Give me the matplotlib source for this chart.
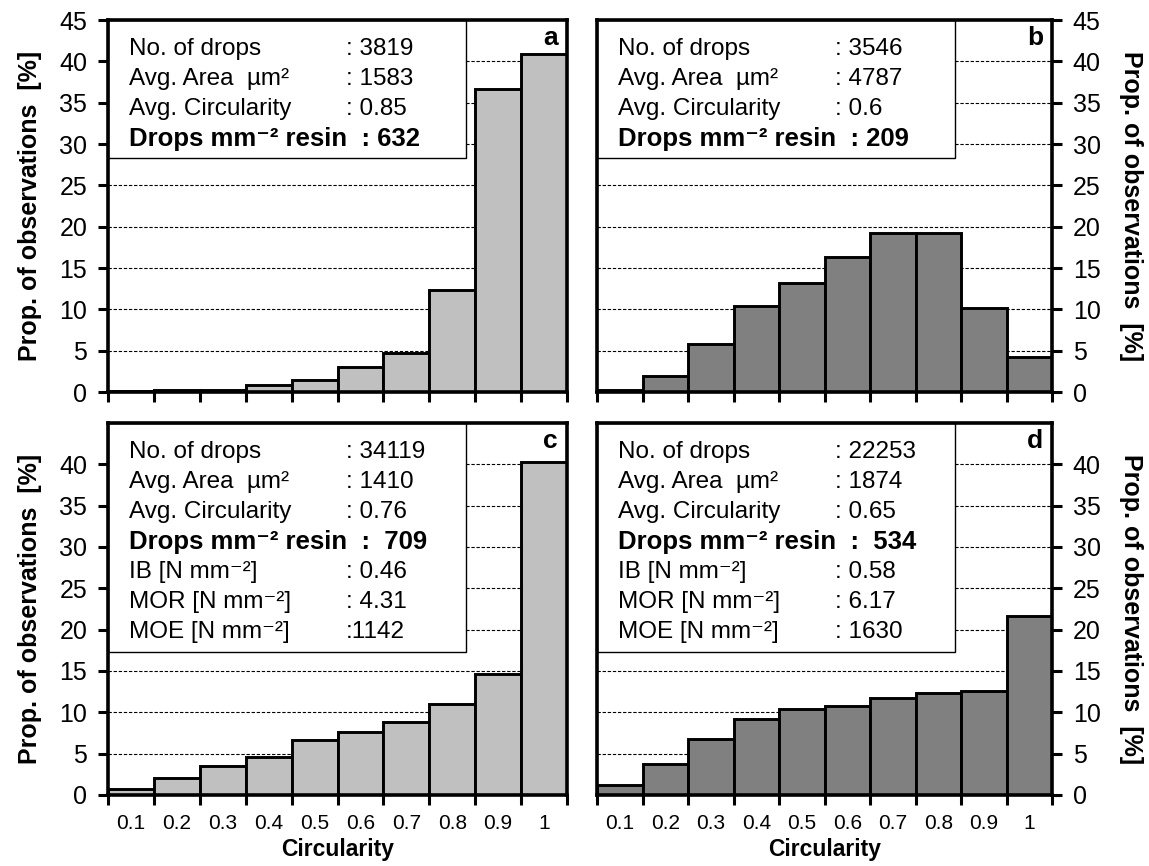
import matplotlib.pyplot as plt
from matplotlib.patches import Rectangle

plt.rcParams['font.family'] = ['Liberation Sans', 'DejaVu Sans']

circ_labels = ['0.1', '0.2', '0.3', '0.4', '0.5', '0.6', '0.7', '0.8', '0.9', '1']

prop_a = [0.1, 0.3, 0.3, 0.8, 1.5, 3.0, 4.7, 12.3, 36.6, 40.9]
prop_b = [0.2, 1.9, 5.8, 10.4, 13.2, 16.3, 19.2, 19.2, 10.2, 4.2]
prop_c = [0.7, 2.1, 3.5, 4.6, 6.7, 7.6, 8.8, 11.0, 14.6, 40.3]
prop_d = [1.2, 3.8, 6.8, 9.2, 10.4, 10.8, 11.7, 12.3, 12.6, 21.7]

info_a = [("No. of drops", ": 3819"), ("Avg. Area  µm²", ": 1583"), ("Avg. Circularity", ": 0.85")]
info_b = [("No. of drops", ": 3546"), ("Avg. Area  µm²", ": 4787"), ("Avg. Circularity", ": 0.6")]
info_c = [("No. of drops", ": 34119"), ("Avg. Area  µm²", ": 1410"), ("Avg. Circularity", ": 0.76")]
info_d = [("No. of drops", ": 22253"), ("Avg. Area  µm²", ": 1874"), ("Avg. Circularity", ": 0.65")]

bold_a = "Drops mm⁻² resin  : 632"
bold_b = "Drops mm⁻² resin  : 209"
bold_c = "Drops mm⁻² resin  :  709"
bold_d = "Drops mm⁻² resin  :  534"

mech_c = [("IB [N mm⁻²]", ": 0.46"), ("MOR [N mm⁻²]", ": 4.31"), ("MOE [N mm⁻²]", ":1142")]
mech_d = [("IB [N mm⁻²]", ": 0.58"), ("MOR [N mm⁻²]", ": 6.17"), ("MOE [N mm⁻²]", ": 1630")]

W, H = 1149, 866
fig = plt.figure(figsize=(W / 100, H / 100), dpi=100)


def make_axes(left, top, right, bottom):
    return fig.add_axes([left / W, 1 - bottom / H, (right - left) / W, (bottom - top) / H])


def panel(ax, vals, color, letter, side, info, bold, mech, show_x, top_tick):
    axw = ax.get_position().width * W
    axh = ax.get_position().height * H
    x = range(len(vals))
    ax.bar(x, vals, width=1.0, color=color, edgecolor='black', linewidth=2.1, zorder=3)
    ax.set_xlim(-0.5, len(vals) - 0.5)
    ax.set_ylim(0, 45)
    ax.set_yticks(range(0, top_tick + 1, 5))
    for g in range(5, 45, 5):
        ax.axhline(g, color='black', lw=0.8, ls=(0, (3, 1.6)), zorder=1)
    for s in ax.spines.values():
        s.set_linewidth(2.6)
        s.set_zorder(5)
    ax.set_xticks([i - 0.5 for i in range(len(vals) + 1)], minor=True)
    ax.set_xticks(list(x))
    ax.tick_params(axis='x', which='major', length=0, labelsize=15, pad=14)
    ax.tick_params(axis='x', which='minor', length=7, width=2.2, direction='out')
    ax.tick_params(axis='y', length=7, width=2.2, direction='out', labelsize=18, pad=8)
    if show_x:
        ax.set_xticklabels(circ_labels)
        ax.set_xlabel('Circularity', fontsize=16.5, fontweight='bold', labelpad=3)
    else:
        ax.set_xticklabels([])
    if side == 'right':
        ax.yaxis.tick_right()
        ax.yaxis.set_label_position('right')
        ax.set_ylabel('Prop. of observations  [%]', fontsize=18, fontweight='bold',
                      rotation=270, labelpad=30)
    else:
        ax.set_ylabel('Prop. of observations  [%]', fontsize=18, fontweight='bold', labelpad=12)

    lines = list(info) + [(bold, None)] + list(mech)
    box_h = 17 + 30.3 * len(lines)
    ax.add_patch(Rectangle((0, 1 - box_h / axh), 358 / axw, box_h / axh, transform=ax.transAxes,
                           facecolor='white', edgecolor='black', lw=1.0, zorder=4))
    for i, (lab, val) in enumerate(lines):
        fy = 1 - (29 + 30 * i) / axh
        if val is None:
            ax.text(21 / axw, fy, lab, transform=ax.transAxes, fontsize=18.5, fontweight='bold',
                    va='center', ha='left', zorder=6)
        else:
            ax.text(21 / axw, fy, lab, transform=ax.transAxes, fontsize=17.5,
                    va='center', ha='left', zorder=6)
            ax.text(238 / axw, fy, val, transform=ax.transAxes, fontsize=17.5,
                    va='center', ha='left', zorder=6)
    ax.text(1 - 9 / axw, 1 - 18 / axh, letter, transform=ax.transAxes, fontsize=19,
            fontweight='bold', va='center', ha='right', zorder=6)


ax_a = make_axes(108, 20, 567, 392)
ax_b = make_axes(597, 20, 1052, 392)
ax_c = make_axes(108, 423, 567, 795)
ax_d = make_axes(597, 423, 1052, 795)

panel(ax_a, prop_a, '#c0c0c0', 'a', 'left', info_a, bold_a, [], False, 45)
panel(ax_b, prop_b, '#808080', 'b', 'right', info_b, bold_b, [], False, 45)
panel(ax_c, prop_c, '#c0c0c0', 'c', 'left', info_c, bold_c, mech_c, True, 40)
panel(ax_d, prop_d, '#808080', 'd', 'right', info_d, bold_d, mech_d, True, 40)

fig.savefig('out.png', dpi=100)
